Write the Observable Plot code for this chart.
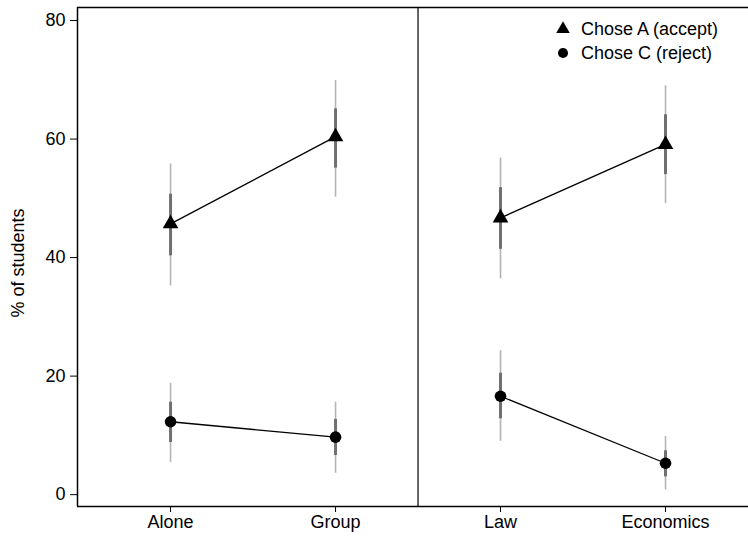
<!DOCTYPE html>
<html>
<head>
<meta charset="utf-8">
<script src="https://cdn.jsdelivr.net/npm/d3@7"></script>
<script src="https://cdn.jsdelivr.net/npm/@observablehq/plot@0.6"></script>
<style>
  html, body { margin: 0; padding: 0; background: #fff; }
  #wrap { position: relative; width: 748px; height: 538px; font-family: "Liberation Sans", Arial, sans-serif; }
  #legend { position: absolute; left: 555px; top: 17px; font-size: 18px; color: #000; line-height: 24px; }
  #legend div { display: flex; align-items: center; }
  #legend svg { margin-right: 10px; }
</style>
</head>
<body>
<div id="wrap"></div>
<script>
const categories = ["Alone", "Group", "Law", "Economics"];
const panels = ["Setting", "Setting", "Field", "Field"];
const seriesNames = ["Chose A (accept)", "Chose C (reject)"];
const acceptValues = [45.7, 60.4, 46.7, 59.1];
const acceptCI90Low = [40.3, 55.1, 41.4, 54.0];
const acceptCI90High = [50.7, 65.1, 51.8, 64.1];
const acceptCI95Low = [35.2, 50.2, 36.4, 49.1];
const acceptCI95High = [55.8, 69.9, 56.8, 69.0];
const rejectValues = [12.3, 9.7, 16.6, 5.3];
const rejectCI90Low = [8.8, 6.6, 12.8, 3.0];
const rejectCI90High = [15.6, 12.7, 20.5, 7.4];
const rejectCI95Low = [5.4, 3.6, 9.0, 0.8];
const rejectCI95High = [18.8, 15.6, 24.3, 9.8];
const yTicks = [0, 20, 40, 60, 80];

const rows = [];
categories.forEach((c, i) => {
  rows.push({series: seriesNames[0], i, cat: c, panel: panels[i], v: acceptValues[i],
    lo90: acceptCI90Low[i], hi90: acceptCI90High[i], lo95: acceptCI95Low[i], hi95: acceptCI95High[i]});
  rows.push({series: seriesNames[1], i, cat: c, panel: panels[i], v: rejectValues[i],
    lo90: rejectCI90Low[i], hi90: rejectCI90High[i], lo95: rejectCI95Low[i], hi95: rejectCI95High[i]});
});

const xDomain = [-0.564, 3.503];
const yDomain = [-2.0, 82.2];
const separator = [(0 + categories.length - 1) / 2];

const chart = Plot.plot({
  width: 748,
  height: 538,
  marginLeft: 77,
  marginRight: 0,
  marginTop: 7,
  marginBottom: 32,
  style: {fontFamily: "'Liberation Sans', Arial, sans-serif", fontSize: "18px", color: "#000", background: "#fff"},
  x: {domain: xDomain, axis: null},
  y: {domain: yDomain, axis: null},
  marks: [
    Plot.ruleX([xDomain[0]], {stroke: "#000", strokeWidth: 1.5}),
    Plot.ruleY([yDomain[0]], {stroke: "#000", strokeWidth: 1.5}),
    Plot.ruleY([yDomain[1]], {stroke: "#000", strokeWidth: 1.5}),
    Plot.ruleX(separator, {stroke: "#000", strokeWidth: 1.2}),
    Plot.axisY({ticks: yTicks, tickSize: 7, tickPadding: 5, fontSize: 18, label: null}),
    Plot.axisX({ticks: d3.range(categories.length), tickFormat: (d) => categories[d], tickSize: 6, tickPadding: 3, fontSize: 18, label: null}),
    Plot.text(["% of students"], {frameAnchor: "left", dx: -59, dy: 6, rotate: -90, textAnchor: "middle", fontSize: 18}),
    Plot.ruleX(rows, {x: "i", y1: "lo95", y2: "hi95", stroke: "#b4b4b4", strokeWidth: 1.6}),
    Plot.ruleX(rows, {x: "i", y1: "lo90", y2: "hi90", stroke: "#707070", strokeWidth: 3}),
    Plot.line(rows, {x: "i", y: "v", z: (d) => d.series + d.panel, stroke: "#000", strokeWidth: 1.3}),
    Plot.dot(rows.filter(d => d.series === seriesNames[0]), {x: "i", y: "v", symbol: "triangle", r: 5.8, fill: "#000", stroke: null}),
    Plot.dot(rows.filter(d => d.series === seriesNames[1]), {x: "i", y: "v", symbol: "circle", r: 5.8, fill: "#000", stroke: null})
  ]
});

const wrap = document.getElementById("wrap");
wrap.appendChild(chart);

const legend = document.createElement("div");
legend.id = "legend";
const tri = d3.symbol(d3.symbolTriangle, 80)();
const cir = d3.symbol(d3.symbolCircle, 80)();
legend.innerHTML = seriesNames.map((s, k) =>
  `<div><svg width="16" height="16" viewBox="-8 -8 16 16"><path d="${k === 0 ? tri : cir}" fill="#000"/></svg><span>${s}</span></div>`
).join("");
wrap.appendChild(legend);
</script>
</body>
</html>
